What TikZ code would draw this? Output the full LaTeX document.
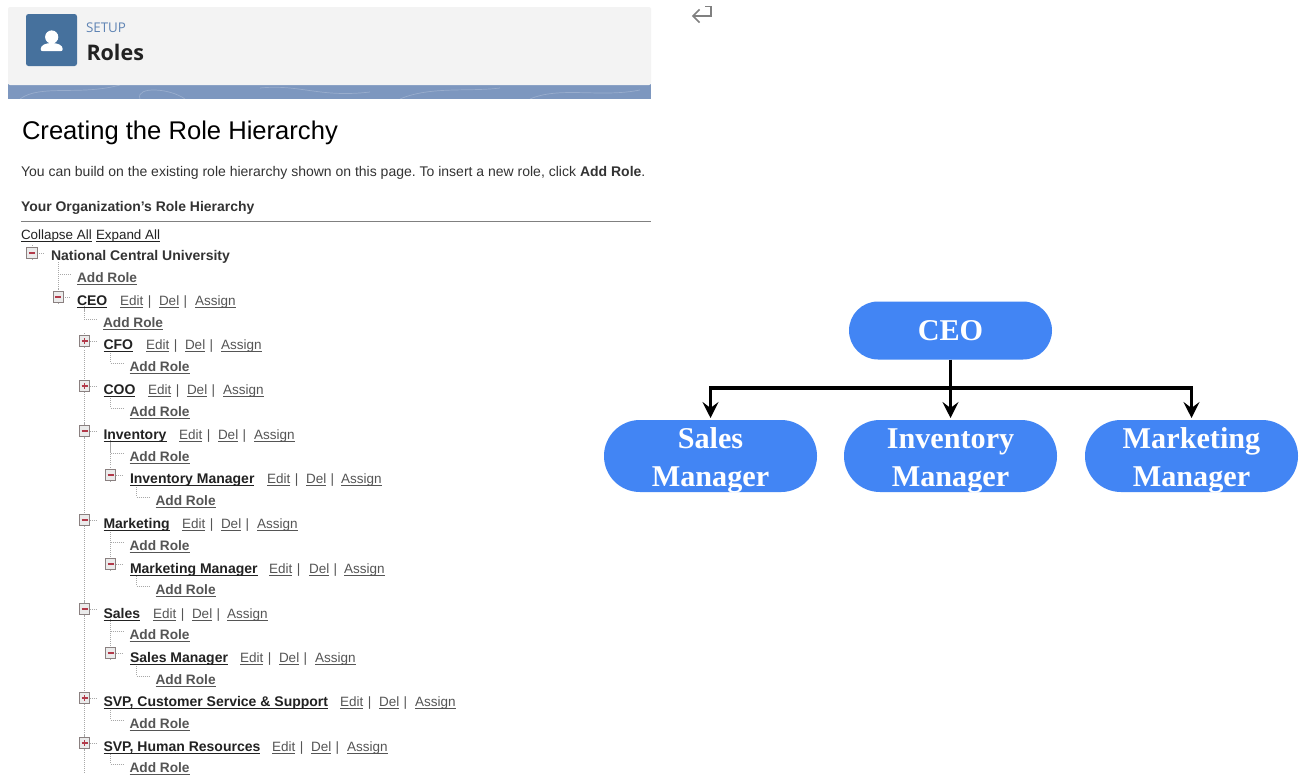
\documentclass[tikz,border=0pt]{standalone}
\usepackage{fontspec}
\setmainfont{Liberation Sans}
\newfontfamily\headfont{Open Sans}
\newfontfamily\diagfont{Liberation Serif}
\usetikzlibrary{arrows.meta,calc}
\definecolor{rolebg}{HTML}{F3F3F3}
\definecolor{banner}{HTML}{7D97BF}
\definecolor{iconblue}{HTML}{46719D}
\definecolor{setupblue}{HTML}{5F84B4}
\definecolor{nodeblue}{HTML}{4285F4}
\definecolor{linkgrey}{HTML}{555555}
\definecolor{namegrey}{HTML}{222222}
\definecolor{bodygrey}{HTML}{333333}
\definecolor{treegrey}{HTML}{A8A8A8}
\definecolor{boxgrey}{HTML}{8A8080}
\definecolor{signred}{HTML}{B23A4A}
\newcommand{\ul}[1]{\leavevmode\setbox0=\hbox{#1}\rlap{\vrule height -1.6pt depth 2.8pt width\wd0}\box0}
\newcommand{\pilltwo}[2]{\raisebox{-10pt}[0pt][0pt]{\begin{tabular}{@{}c@{}}#1\\#2\end{tabular}}}
\tikzset{
  x=1pt,y=-1pt,
  txt/.style={anchor=base west,inner sep=0pt,outer sep=0pt,font=\fontsize{13.5}{15}\selectfont},
  addrole/.style={txt,text=linkgrey,font=\fontsize{13.7}{15}\selectfont\bfseries},
  rolename/.style={txt,text=namegrey,font=\fontsize{14}{15}\selectfont\bfseries},
  act/.style={txt,text=linkgrey},
  dotline/.style={draw=treegrey,line width=.8pt,dash pattern=on 1pt off 1pt},
  pill/.style={fill=nodeblue,rounded corners=#1,inner sep=0pt,outer sep=0pt,text=white,
     font=\diagfont\fontsize{30.2}{38}\selectfont\bfseries},
  conn/.style={line width=3.8pt,draw=black,shorten >=2pt,-{Stealth[length=16pt,width=16pt,inset=6pt]}},
  bar/.style={line width=3.8pt,draw=black},
  treebox/.style={draw=boxgrey,fill=white!92!black,line width=.8pt,minimum size=10.5pt,inner sep=0pt,outer sep=0pt},
  sign/.style={draw=signred,line width=1.4pt},
}
% \addrow{id}{name x}{base y}{text}{edit x}{del x}{assign x}
\newcommand{\addrow}[7]{%
  \node[rolename] (#1) at (#2,#3) {\ul{#4}};
  \node[act] (#1e) at (#5,#3) {\ul{Edit}\,\,|};
  \node[act] (#1d) at (#6,#3) {\ul{Del}\,\,|};
  \node[act] (#1a) at (#7,#3) {\ul{Assign}};
}
\newcommand{\addadd}[3]{\node[addrole] (#1) at (#2,#3) {\ul{Add Role}};%
  \draw[dotline] (#2-19,#3-18) -- (#2-19,#3-8) -- (#2-6,#3-8);}
\newcommand{\tminus}[3]{%
  \draw[dotline] (#2,#3-8) -- (#2,#3+8) (#2+5,#3) -- (#2+12,#3);
  \node[treebox] (#1) at (#2,#3) {};
  \draw[sign] (#2-3,#3) -- (#2+3,#3);}
\newcommand{\tplus}[3]{\tminus{#1}{#2}{#3}\draw[sign] (#2,#3-3) -- (#2,#3+3);}
\begin{document}
\begin{tikzpicture}
\useasboundingbox (0,0) rectangle (1304,774);
\fill[white] (0,0) rectangle (1304,774);
% header
\fill[banner] (8,84) rectangle (651,99);
\draw[white,opacity=.22,line width=.7pt] (20,99) .. controls (40,84) and (80,96) .. (120,85)
  (140,99) .. controls (135,86) and (170,88) .. (185,99) (260,88) .. controls (300,84) and (320,98) .. (370,92)
  (400,99) .. controls (430,86) and (470,92) .. (500,88) (530,99) .. controls (560,86) and (600,98) .. (640,90);
\fill[rolebg,rounded corners=2pt] (8,7) rectangle (651,85);
\fill[iconblue,rounded corners=2.5pt] (26,14) rectangle (77,66);
\fill[white] (51.7,37) circle (6.6);
\fill[white] (40.7,49) .. controls (40.7,45) and (46,43) .. (51.7,43) .. controls (57.4,43) and (62.7,45) .. (62.7,49)
  .. controls (62.7,50.5) and (62,51.2) .. (60.5,51.2) -- (43,51.2) .. controls (41.4,51.2) and (40.7,50.5) .. (40.7,49) -- cycle;
\node[txt,text=setupblue,font=\headfont\fontsize{13.4}{16}\selectfont] (setup) at (86,32) {SETUP};
\node[txt,text=namegrey,font=\headfont\fontsize{21.5}{26}\selectfont\bfseries] (roles) at (86.5,60) {Roles};
% arrow glyph
\draw[gray,line width=1.6pt,line join=miter] (705,6.5) -- (711,6.5) -- (711,16) -- (694,16);
\draw[gray,line width=1.6pt] (699.5,9.5) -- (693,16) -- (699.5,22.5);
% title
\node[txt,text=black,font=\fontsize{25.6}{30}\selectfont] (title) at (22,139.5) {Creating the Role Hierarchy};
\node[txt,text=bodygrey,font=\frenchspacing\fontsize{14}{16}\selectfont] (intro) at (21,176) {You can build on the existing role hierarchy shown on this page. To insert a new role, click \textbf{Add Role}.};
\node[txt,text=bodygrey,font=\fontsize{13.95}{16}\selectfont\bfseries] (your) at (21,211) {Your Organization\symbol{39}s Role Hierarchy};
\draw[gray,line width=.9pt] (21,221) -- (651,221);
\node[txt,text=namegrey,font=\fontsize{13.4}{16}\selectfont] (coll) at (21,239) {\ul{Collapse All}};
\node[txt,text=namegrey,font=\fontsize{13.4}{16}\selectfont] (expa) at (96,239) {\ul{Expand All}};
\node[rolename,text=bodygrey] (ncu) at (51,260) {National Central University};
% tree long verticals
\draw[dotline] (58.5,262) -- (58.5,290);
\draw[dotline] (84.5,306) -- (84.5,312);
\draw[dotline] (84.5,350) -- (84.5,774);
\draw[dotline] (110.5,440) -- (110.5,466);
\draw[dotline] (110.5,530) -- (110.5,556);
\draw[dotline] (110.5,619) -- (110.5,645);
% tree rows
\tminus{bncu}{32}{253}
\addadd{a0}{77}{282}
\tminus{bceo}{58.3}{297}
\addrow{ceo2}{77}{305}{CEO}{120}{159}{195}
\addadd{a1}{103}{327}
\tplus{bcfo}{84.5}{341}
\addrow{cfo}{103.5}{349.5}{CFO}{146}{185}{221}
\addadd{a2}{129.5}{371}
\tplus{bcoo}{84.5}{386}
\addrow{coo}{103.5}{394.5}{COO}{148}{187}{223}
\addadd{a3}{129.5}{416}
\tminus{binv}{84.5}{431}
\addrow{inv}{103.5}{439}{Inventory}{179}{218}{254}
\addadd{a4}{129.5}{461}
\tminus{binm}{110.5}{475}
\addrow{inm}{130}{483.5}{Inventory Manager}{267}{306}{341}
\addadd{a5}{155.5}{505}
\tminus{bmar}{84.5}{520}
\addrow{mar}{103.5}{528}{Marketing}{182}{221}{257}
\addadd{a6}{129.5}{550}
\tminus{bmam}{110.5}{564}
\addrow{mam}{130}{573}{Marketing Manager}{269}{309}{344}
\addadd{a7}{155.5}{594}
\tminus{bsal}{84.5}{609}
\addrow{sal}{103.5}{618}{Sales}{153}{192}{227}
\addadd{a8}{129.5}{639}
\tminus{bsam}{110.5}{653}
\addrow{sam}{130}{662}{Sales Manager}{240}{279}{315}
\addadd{a9}{155.5}{684}
\tplus{bsvc}{84.5}{698}
\addrow{svc}{103.5}{706.5}{SVP, Customer Service \& Support}{340}{379}{415}
\addadd{a10}{129.5}{728}
\tplus{bsvh}{84.5}{743}
\addrow{svh}{103.5}{751.5}{SVP, Human Resources}{272}{311}{347}
\addadd{a11}{129.5}{772}
% diagram
\node[pill=29pt,minimum width=203pt,minimum height=58pt] (ceo) at (950.5,330.5) {\raisebox{-1.5pt}{CEO}};
\node[pill=35.9pt,minimum width=213pt,minimum height=72pt] (salesm) at (710.5,456) {\pilltwo{Sales}{Manager}};
\node[pill=35.9pt,minimum width=213pt,minimum height=72pt] (invm) at (950.5,456) {\pilltwo{Inventory}{Manager}};
\node[pill=35.9pt,minimum width=213pt,minimum height=72pt] (markm) at (1191.5,456) {\pilltwo{Marketing}{Manager}};
\coordinate (hub) at (950.5,388);
\draw[bar] (ceo.south) -- (hub);
\draw[conn] (hub) -- (invm.north);
\draw[conn] (hub) -- (salesm.north |- hub) -- (salesm.north);
\draw[conn] (hub) -- (markm.north |- hub) -- (markm.north);
\end{tikzpicture}
\end{document}
